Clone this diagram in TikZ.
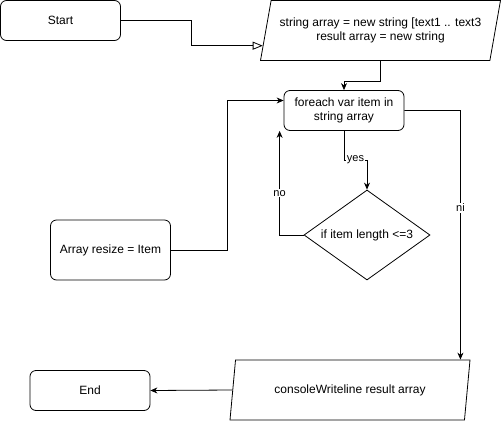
\documentclass[tikz,border=0pt]{standalone}
\usepackage{fontspec}
\setmainfont{Liberation Sans}
\usetikzlibrary{shapes.geometric, arrows.meta, calc}

\begin{document}
\begin{tikzpicture}[x=1pt, y=-1pt, line width=0.8pt, font=\fontsize{12}{14}\selectfont,
  terminal/.style={rectangle, draw, rounded corners=6pt, minimum width=120, minimum height=40},
  process/.style={rectangle, draw, rounded corners=6pt, minimum width=120, align=center},
  io/.style={trapezium, draw, trapezium left angle=70, trapezium right angle=110,
    trapezium stretches body, minimum width=240, minimum height=60, inner sep=2pt, align=center},
  decision/.style={diamond, draw, aspect=1.4, minimum width=126, minimum height=90, inner sep=0pt},
  arr/.style={-{Stealth[length=7pt, width=6pt]}},
  lbl/.style={fill=white, inner sep=1pt, font=\fontsize{11}{13}\selectfont}]
\useasboundingbox (0,0) rectangle (501,421);

% Nodes
\node[terminal] (start) at (60.5,20.5) {Start};
\node[io] (input) at (380.5,30.5) {string array = new string [text1 .. text3\\result array = new string};
\node[process, minimum height=40] (loop) at (344,110.5) {foreach var item in\\string array};
\node[decision] (cond) at (367,235) {if item length <=3};
\node[process, minimum height=60] (resize) at (110.5,250) {Array resize = Item};
\node[io] (output) at (350,390) {consoleWriteline result array};
\node[terminal] (end) at (90,390.5) {End};

% Edges
\coordinate (in1) at ($(input.bottom left corner)!0.25!(input.top left corner)$);
\draw[-{Triangle[open, length=10pt, width=8pt]}] (start.east) -- ++(70,0) |- (in1);
\draw[arr] (input.south) -- ++(0,20) -| (loop.north);
\draw[arr] (loop.south) -- ++(0,29) -| node[lbl, pos=0.25] {yes} (cond.north);
\draw[arr] (cond.west) -| node[lbl, pos=0.7] {no} ($(loop.south west)+(-4,0)$);
\draw[arr] (resize.east) -- ++(56,0) |- ($(loop.west)+(0,-10)$);
\draw[arr] (loop.east) -- ++(56,0) -- node[lbl, pos=0.39] {ni} ($(output.top right corner)+(-10,0)$);
\draw[arr] (output.left side) -- (end.east);

\end{tikzpicture}
\end{document}
